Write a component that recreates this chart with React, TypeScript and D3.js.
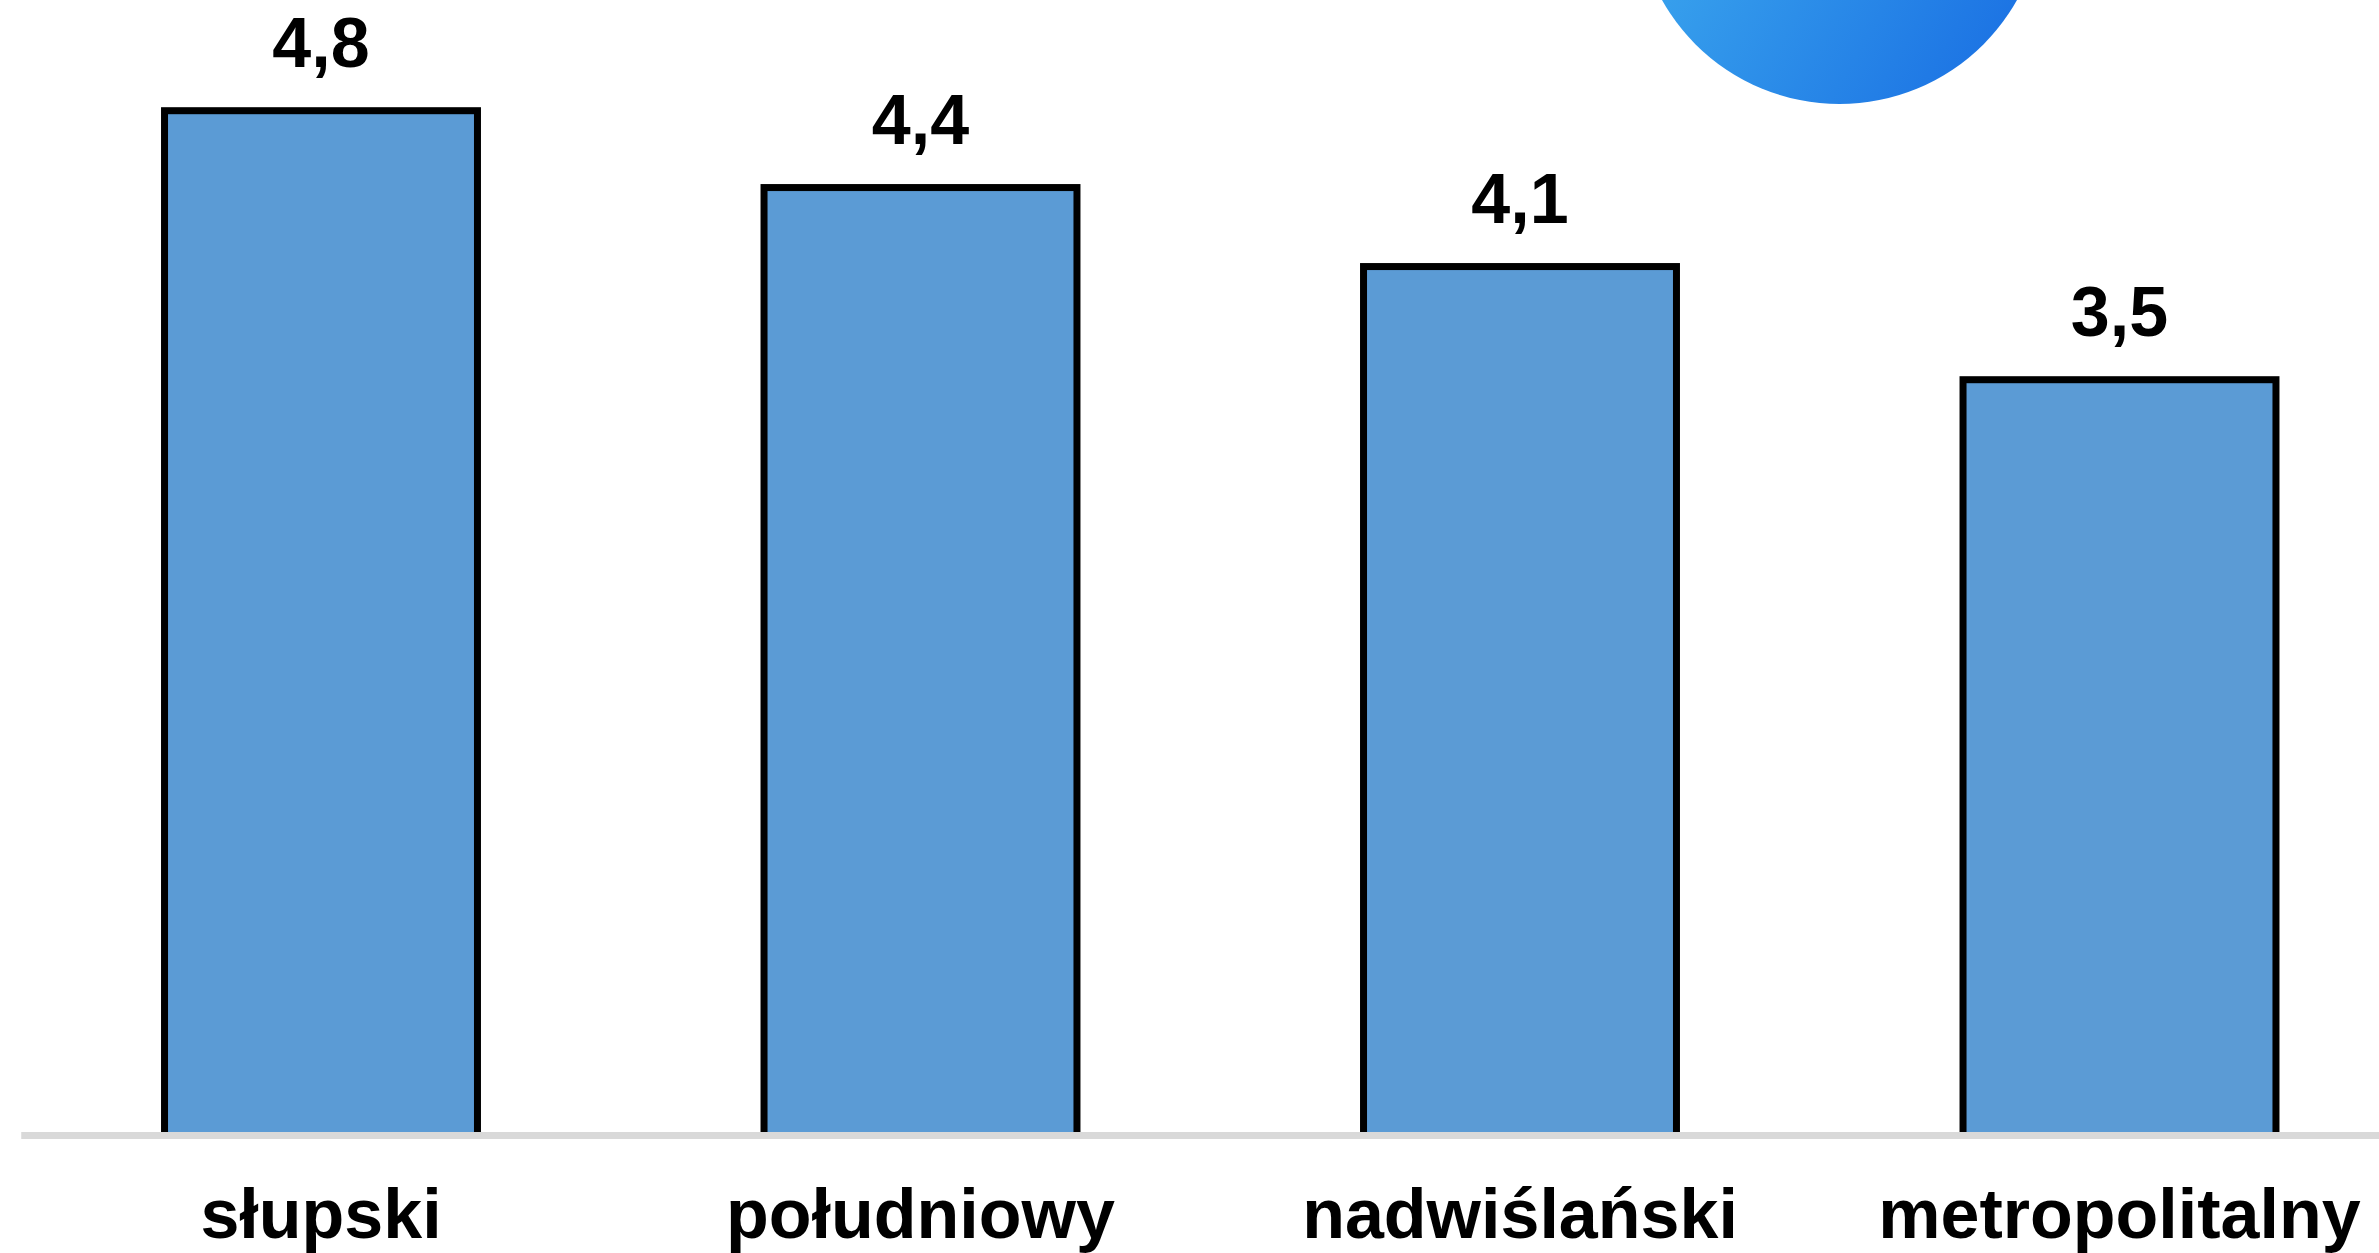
import React, { useEffect, useRef } from "react";
import * as d3 from "d3";

// chart data
const categories = ["słupski", "południowy", "nadwiślański", "metropolitalny"];
const values = [4.8, 4.44, 4.07, 3.54];

const width = 2379;
const height = 1253;

const App = () => {
  const svgRef = useRef<SVGSVGElement>(null);

  useEffect(() => {
    const svg = d3.select(svgRef.current);
    svg.selectAll("*").remove();

    const baseY = 1135.5;
    const font = "'Liberation Sans', Arial, sans-serif";

    const xScale = d3
      .scaleBand<string>()
      .domain(categories)
      .range([21.25, 2419.25])
      .paddingInner(0.478)
      .paddingOuter(0.239);

    const yScale = d3
      .scaleLinear()
      .domain([0, 5])
      .range([baseY, baseY - 5 * 213.5]);

    // gradient for the decorative circle at the top
    const defs = svg.append("defs");
    const grad = defs
      .append("linearGradient")
      .attr("id", "circleGrad")
      .attr("x1", "0")
      .attr("y1", "0.2")
      .attr("x2", "1")
      .attr("y2", "0.8");
    grad.append("stop").attr("offset", "0%").attr("stop-color", "#42b2f0");
    grad.append("stop").attr("offset", "100%").attr("stop-color", "#1a70e3");

    svg
      .append("circle")
      .attr("cx", 1839.5)
      .attr("cy", -99.5)
      .attr("r", 203.5)
      .attr("fill", "url(#circleGrad)");

    // bars
    svg
      .selectAll(".bar")
      .data(values)
      .enter()
      .append("rect")
      .attr("class", "bar")
      .attr("x", (d, i) => xScale(categories[i])!)
      .attr("y", (d) => yScale(d))
      .attr("width", xScale.bandwidth())
      .attr("height", (d) => baseY - yScale(d))
      .attr("fill", "#5b9bd5")
      .attr("stroke", "#000")
      .attr("stroke-width", 7);

    // baseline
    svg
      .append("line")
      .attr("x1", xScale.range()[0])
      .attr("x2", xScale.range()[1])
      .attr("y1", baseY)
      .attr("y2", baseY)
      .attr("stroke", "#d9d9d9")
      .attr("stroke-width", 7);

    // value labels
    const fmt = d3.format(".1f");
    svg
      .selectAll(".value-label")
      .data(values)
      .enter()
      .append("text")
      .attr("class", "value-label")
      .attr("x", (d, i) => xScale(categories[i])! + xScale.bandwidth() / 2)
      .attr("y", (d) => yScale(d) - 43.5)
      .attr("text-anchor", "middle")
      .style("font-family", font)
      .style("font-weight", "bold")
      .style("font-size", "70px")
      .style("fill", "#000")
      .text((d) => fmt(d).replace(".", ","));

    // category labels
    svg
      .selectAll(".cat-label")
      .data(categories)
      .enter()
      .append("text")
      .attr("class", "cat-label")
      .attr("x", (d) => xScale(d)! + xScale.bandwidth() / 2)
      .attr("y", 1238)
      .attr("text-anchor", "middle")
      .style("font-family", font)
      .style("font-weight", "bold")
      .style("font-size", "70px")
      .style("fill", "#000")
      .text((d) => d);
  }, []);

  return (
    <svg
      ref={svgRef}
      width={width}
      height={height}
      style={{ position: "absolute", left: 0, top: 0, display: "block", background: "#fff" }}
    ></svg>
  );
};

export default App;
